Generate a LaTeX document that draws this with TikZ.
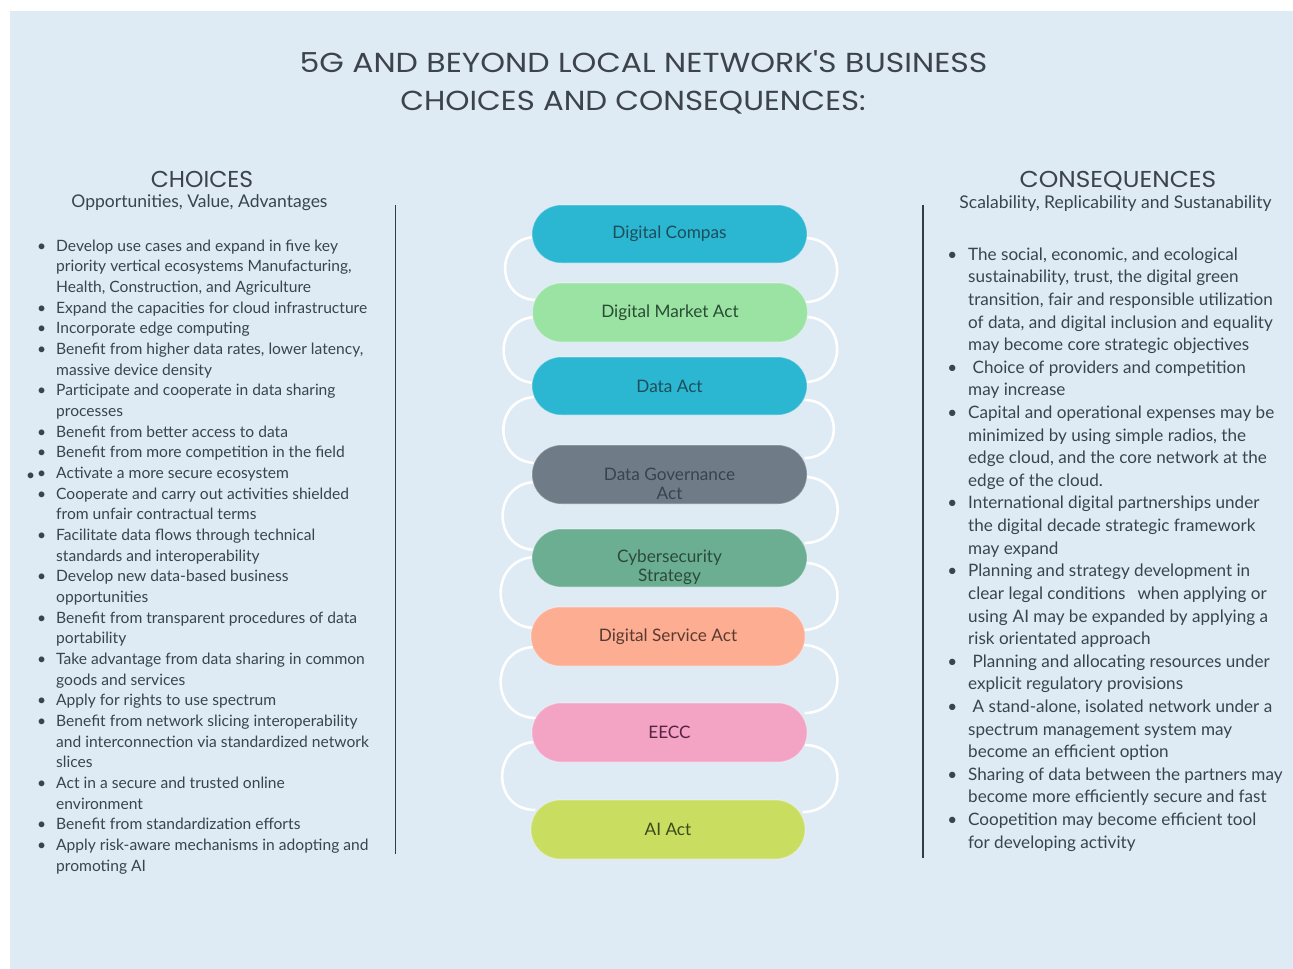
\documentclass[tikz,border=0pt]{standalone}
\usepackage{fontspec}
\setmainfont{Lato}
\newfontfamily\headfont{Poppins}
\usetikzlibrary{backgrounds}
\definecolor{bgblue}{HTML}{DEEAF4}
\definecolor{txt}{HTML}{3A444E}
\definecolor{ttl}{HTML}{3C434B}
\definecolor{cCyan}{HTML}{2BB6D1}
\definecolor{cCyanT}{HTML}{1D4E5C}
\definecolor{cGreen}{HTML}{9AE3A3}
\definecolor{cGreenT}{HTML}{2A4C34}
\definecolor{cGray}{HTML}{6F7C87}
\definecolor{cGrayT}{HTML}{38434D}
\definecolor{cSea}{HTML}{6BAE92}
\definecolor{cSeaT}{HTML}{2A4A3C}
\definecolor{cSalmon}{HTML}{FDAD91}
\definecolor{cSalmonT}{HTML}{5A3A30}
\definecolor{cPink}{HTML}{F3A3C4}
\definecolor{cPinkT}{HTML}{5A2242}
\definecolor{cLime}{HTML}{C9DE60}
\definecolor{cLimeT}{HTML}{3A4A1A}
\tikzset{
  pill/.style={rectangle, rounded corners=29pt, minimum width=275pt, minimum height=58pt,
    inner sep=0pt, align=center, font=\fontsize{17.2}{19}\selectfont,
    draw=white, draw opacity=0.3, line width=1.2pt},
  link/.style={draw=white, line width=2.6pt},
  lline/.style={anchor=base west, inner sep=0pt, text=txt, font=\fontsize{15.6}{18}\selectfont},
  rline/.style={anchor=base west, inner sep=0pt, text=txt, font=\fontsize{17.1}{20}\selectfont},
  sep/.style={draw=txt!90!black, line width=1.4pt},
  ttlfont/.style={anchor=base, inner sep=0pt, text=ttl, font=\headfont\fontsize{27.5}{30}\selectfont},
  hdfont/.style={anchor=base, inner sep=0pt, text=ttl, font=\headfont\fontsize{23}{26}\selectfont},
  subfont/.style={anchor=base, inner sep=0pt, text=txt, font=\fontsize{17.5}{20}\selectfont}
}
\begin{document}
\begin{tikzpicture}[x=1pt,y=-1pt]
\useasboundingbox (0,0) rectangle (1293,969);
\begin{scope}[on background layer]
\fill[white] (0,0) rectangle (1293,969);
\fill[bgblue] (10,11) rectangle (1293,969);
\end{scope}

% title
\node[ttlfont] (t1) at (643.5,72.5) {\scalebox{1.147}[1]{5G AND BEYOND LOCAL NETWORK'S BUSINESS}};
\node[ttlfont] (t2) at (633,110.5) {\scalebox{1.12}[1]{CHOICES AND CONSEQUENCES:}};

% headers
\node[hdfont] (hc) at (202,187) {\scalebox{1.02}[1]{CHOICES}};
\node[subfont] (hcs) at (199.5,207.5) {Opportunities, Value, Advantages};
\node[hdfont] (hq) at (1118,187.5) {\scalebox{1.08}[1]{CONSEQUENCES}};
\node[subfont] (hqs) at (1115.5,208) {Scalability, Replicability and Sustanability};

% separators
\draw[sep] (395.5,205) -- (395.5,854);
\draw[sep] (923,205) -- (923,858);

% pills
\node[pill, fill=cCyan, text=cCyanT] (P1) at (669.5,234) {Digital Compas};
\node[pill, fill=cGreen, text=cGreenT, minimum height=59pt] (P2) at (670,312.5) {Digital Market Act};
\node[pill, fill=cCyan, text=cCyanT] (P3) at (669.5,386) {Data Act};
\node[pill, fill=cGray, text=cGrayT, minimum height=59pt] (P4) at (669.5,474.5) {\rule{0pt}{32pt}Data Governance\\Act};
\node[pill, fill=cSea, text=cSeaT] (P5) at (669.5,558) {\rule{0pt}{32pt}Cybersecurity\\Strategy};
\node[pill, fill=cSalmon, text=cSalmonT, minimum height=59pt, minimum width=274pt] (P6) at (668,636.5) {Digital Service Act};
\node[pill, fill=cPink, text=cPinkT, minimum height=59pt] (P7) at (669.5,732.5) {EECC};
\node[pill, fill=cLime, text=cLimeT, minimum height=59pt, minimum width=274pt] (P8) at (668,829.5) {AI Act};

% chain links behind the pills
\begin{scope}[on background layer]
% left side
\draw[link] ([xshift=5pt,yshift=-3pt]P1.west) .. controls +(-42,0) and +(-42,0) .. ([xshift=5pt,yshift=12.5pt]P2.west);
\draw[link] ([xshift=5pt,yshift=-4.5pt]P2.west) .. controls +(-44,0) and +(-44,0) .. ([xshift=5pt,yshift=3pt]P3.west);
\draw[link] ([xshift=5pt,yshift=-11pt]P3.west) .. controls +(-44,0) and +(-44,0) .. ([xshift=5pt,yshift=11.5pt]P4.west);
\draw[link] ([xshift=5pt,yshift=-7.5pt]P4.west) .. controls +(-45,0) and +(-45,0) .. ([xshift=5pt,yshift=8pt]P5.west);
\draw[link] ([xshift=5pt,yshift=1pt]P5.west) .. controls +(-47,0) and +(-47,0) .. ([xshift=5pt,yshift=8.5pt]P6.west);
\draw[link] ([xshift=5pt,yshift=-10.5pt]P6.west) .. controls +(-47,0) and +(-47,0) .. ([xshift=5pt,yshift=14.5pt]P7.west);
\draw[link] ([xshift=5pt,yshift=-9.5pt]P7.west) .. controls +(-45,0) and +(-45,0) .. ([xshift=5pt,yshift=19.5pt]P8.west);
% right side
\draw[link] ([xshift=-3pt,yshift=-4pt]P1.east) .. controls +(43,0) and +(43,0) .. ([xshift=-3pt,yshift=10.5pt]P2.east);
\draw[link] ([xshift=-3pt,yshift=-4.5pt]P2.east) .. controls +(43,0) and +(43,0) .. ([xshift=-3pt,yshift=4pt]P3.east);
\draw[link] ([xshift=-3pt,yshift=-14pt]P3.east) .. controls +(39,0) and +(39,0) .. ([xshift=-3pt,yshift=16.5pt]P4.east);
\draw[link] ([xshift=-3pt,yshift=-2.5pt]P4.east) .. controls +(44,0) and +(44,0) .. ([xshift=-3pt,yshift=15pt]P5.east);
\draw[link] ([xshift=-3pt,yshift=-5pt]P5.east) .. controls +(45,0) and +(45,0) .. ([xshift=-3pt,yshift=6.5pt]P6.east);
\draw[link] ([xshift=-3pt,yshift=-8.5pt]P6.east) .. controls +(45,0) and +(45,0) .. ([xshift=-3pt,yshift=19.5pt]P7.east);
\draw[link] ([xshift=-3pt,yshift=-12.5pt]P7.east) .. controls +(45,0) and +(45,0) .. ([xshift=-3pt,yshift=17.5pt]P8.east);
\end{scope}

% left list
\foreach \b/\t [count=\i] in {
 1/{Develop use cases and expand in five key},
 0/{priority vertical ecosystems Manufacturing,},
 0/{Health, Construction, and Agriculture},
 1/{Expand the capacities for cloud infrastructure},
 1/{Incorporate edge computing},
 1/{Benefit from higher data rates, lower latency,},
 0/{massive device density},
 1/{Participate and cooperate in data sharing},
 0/{processes},
 1/{Benefit from better access to data},
 1/{Benefit from more competition in the field},
 2/{Activate a more secure ecosystem},
 1/{Cooperate and carry out activities shielded},
 0/{from unfair contractual terms},
 1/{Facilitate data flows through technical},
 0/{standards and interoperability},
 1/{Develop new data-based business},
 0/{opportunities},
 1/{Benefit from transparent procedures of data},
 0/{portability},
 1/{Take advantage from data sharing in common},
 0/{goods and services},
 1/{Apply for rights to use spectrum},
 1/{Benefit from network slicing interoperability},
 0/{and interconnection via standardized network},
 0/{slices},
 1/{Act in a secure and trusted online},
 0/{environment},
 1/{Benefit from standardization efforts},
 1/{Apply risk-aware mechanisms in adopting and},
 0/{promoting AI}}
{
 \node[lline] (L\i) at (56,{230.5+20.667*\i}) {\ifcase\b\or\llap{\textbullet\hspace{10pt}}\or\llap{\raisebox{-1.5pt}{\textbullet}\hspace{2pt}\textbullet\hspace{10pt}}\fi\t};
}

% right list
\foreach \b/\t [count=\i] in {
 1/{The social, economic, and ecological},
 0/{sustainability, trust, the digital green},
 0/{transition, fair and responsible utilization},
 0/{of data, and digital inclusion and equality},
 0/{may become core strategic objectives},
 1/{\hspace{4.5pt}Choice of providers and competition},
 0/{may increase},
 1/{Capital and operational expenses may be},
 0/{minimized by using simple radios, the},
 0/{edge cloud, and the core network at the},
 0/{edge of the cloud.},
 1/{International digital partnerships under},
 0/{the digital decade strategic framework},
 0/{may expand},
 1/{Planning and strategy development in},
 0/{clear legal conditions\hspace{12pt}when applying or},
 0/{using\hspace{5pt}AI may be expanded by applying a},
 0/{risk orientated approach},
 1/{\hspace{4.5pt}Planning and allocating resources under},
 0/{explicit regulatory provisions},
 1/{\hspace{4.5pt}A stand-alone, isolated\hspace{5pt}network under a},
 0/{spectrum management system may},
 0/{become an efficient option},
 1/{Sharing of data between the partners may},
 0/{become more efficiently secure and fast},
 1/{Coopetition may become efficient tool},
 0/{for developing activity}}
{
 \node[rline] (R\i) at (968,{237.6+22.615*\i}) {\ifcase\b\or\llap{\textbullet\hspace{11pt}}\fi\t};
}
\end{tikzpicture}
\end{document}
